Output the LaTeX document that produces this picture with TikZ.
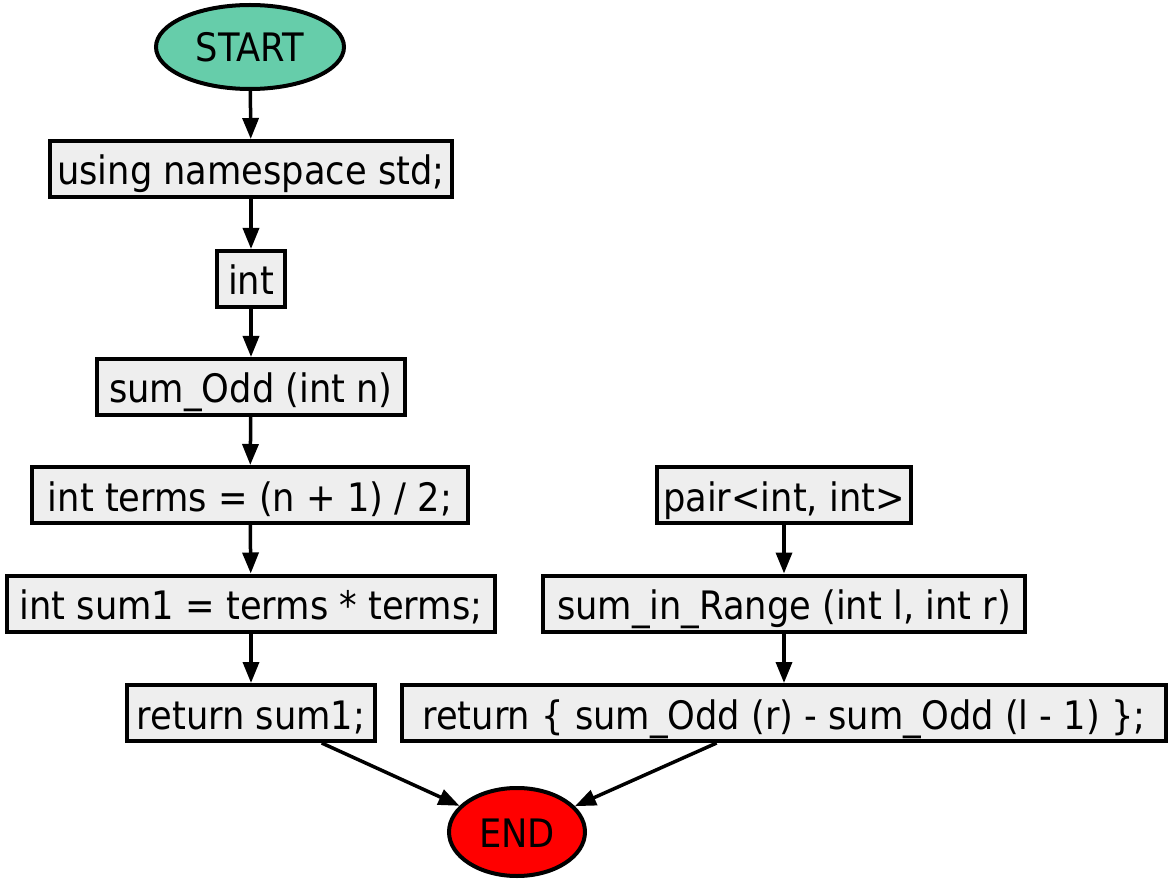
\documentclass[tikz,border=0pt]{standalone}
\usepackage{fontspec}
\setmainfont{DejaVu Sans Condensed}
\usetikzlibrary{arrows.meta,shapes.geometric}
\definecolor{boxgray}{HTML}{EEEEEE}
\definecolor{startgreen}{HTML}{66CDAA}
\begin{document}
\begin{tikzpicture}[x=1pt,y=-1pt,
  txt/.style={font=\fontsize{39.2}{47}\selectfont,text height=40pt,text depth=8pt,inner sep=0pt},
  box/.style={txt,draw=black,line width=4pt,fill=boxgray,rectangle,minimum height=56pt},
  oval/.style={txt,draw=black,line width=4pt,ellipse,text height=30pt,text depth=0pt},
  edge/.style={line width=3.5pt,-{Triangle[length=21pt,width=16pt]}}]
\useasboundingbox (0,0) rectangle (1173,882);
\node[oval,fill=startgreen,minimum width=188pt,minimum height=84pt] (start) at (250,47) {START};
\node[box,minimum width=402pt] (using) at (251,169) {using namespace std;};
\node[box,minimum width=68pt] (int) at (251,279) {int};
\node[box,minimum width=308pt] (sumodd) at (251,387) {sum\_Odd (int n)};
\node[box,minimum width=436pt] (terms) at (250,495) {int terms = (n + 1) / 2;};
\node[box,minimum width=488pt] (sum1) at (251,603.5) {int sum1 = terms * terms;};
\node[box,minimum width=248pt] (ret1) at (251,713) {return sum1;};
\node[box,minimum width=254pt] (pair) at (784,495) {pair<int, int>};
\node[box,minimum width=482pt] (range) at (784,603.5) {sum\_in\_Range (int l, int r)};
\node[box,minimum width=764pt] (ret2) at (784,713) {return \{ sum\_Odd (r) - sum\_Odd (l - 1) \};};
\node[oval,fill=red,minimum width=136pt,minimum height=88pt] (end) at (517,832) {END};
\draw[edge] (start) -- (using);
\draw[edge] (using) -- (int);
\draw[edge] (int) -- (sumodd);
\draw[edge] (sumodd) -- (terms);
\draw[edge] (terms) -- (sum1);
\draw[edge] (sum1) -- (ret1);
\draw[edge] (pair) -- (range);
\draw[edge] (range) -- (ret2);
\draw[edge] (ret1.-23.5) -- (end);
\draw[edge] (ret2.-156.5) -- (end);
\end{tikzpicture}
\end{document}
